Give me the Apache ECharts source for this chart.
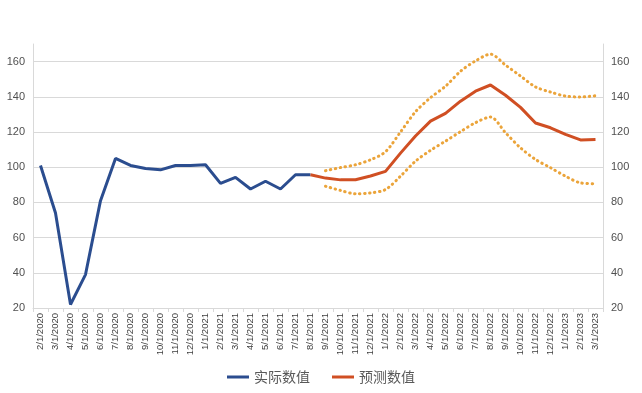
<!DOCTYPE html>
<html>
<head>
<meta charset="utf-8">
<script src="https://cdn.jsdelivr.net/npm/echarts@6/dist/echarts.min.js"></script>
<style>html,body{margin:0;padding:0;background:#fff}#c{width:642px;height:393px}</style>
</head>
<body>
<div id="c"></div>
<script>
var categories = ['2/1/2020','3/1/2020','4/1/2020','5/1/2020','6/1/2020','7/1/2020','8/1/2020','9/1/2020','10/1/2020','11/1/2020','12/1/2020','1/1/2021','2/1/2021','3/1/2021','4/1/2021','5/1/2021','6/1/2021','7/1/2021','8/1/2021','9/1/2021','10/1/2021','11/1/2021','12/1/2021','1/1/2022','2/1/2022','3/1/2022','4/1/2022','5/1/2022','6/1/2022','7/1/2022','8/1/2022','9/1/2022','10/1/2022','11/1/2022','12/1/2022','1/1/2023','2/1/2023','3/1/2023'];
var actual = [101, 74, 22, 39, 81, 105, 101, 99.3, 98.5, 101, 101, 101.4, 90.8, 94.2, 87.6, 92, 87.6, 95.7, 95.7];
var forecast = [null,null,null,null,null,null,null,null,null,null,null,null,null,null,null,null,null,null, 95.7, 93.8, 92.8, 92.9, 95, 97.6, 108, 117.7, 126.2, 130.6, 137.5, 143.2, 146.7, 140.9, 134, 125.1, 122.4, 118.6, 115.5, 115.8];
var upper = [null,null,null,null,null,null,null,null,null,null,null,null,null,null,null,null,null,null,null, 98, 99.8, 101.4, 104.2, 108.8, 120, 131.5, 139.5, 146, 154.5, 160.4, 164.2, 158, 151.8, 145.6, 142.7, 140.4, 139.9, 140.6];
var lower = [null,null,null,null,null,null,null,null,null,null,null,null,null,null,null,null,null,null,null, 89.2, 86.8, 84.9, 85.4, 87.3, 94.9, 103.4, 109.6, 114.8, 120.2, 125.3, 128.5, 119.6, 111, 104.4, 99.7, 94.9, 91.1, 90.6];
var seriesNames = ['实际数值', '预测数值'];

var chart = echarts.init(document.getElementById('c'));
var yAxisCommon = {
  type: 'value', min: 20, max: 170, interval: 20,
  axisLine: {show: true, lineStyle: {color: '#d9d9d9'}},
  axisTick: {show: false},
  splitLine: {show: true, showMaxLine: false, lineStyle: {color: '#d9d9d9', width: 1}},
  axisLabel: {color: '#505050', fontSize: 11, fontFamily: 'Liberation Sans', showMaxLabel: false,
    formatter: function (v) { return v > 160 ? '' : v; }}
};
chart.setOption({
  animation: false,
  backgroundColor: '#fff',
  grid: {left: 33, right: 39, top: 44, bottom: 85},
  legend: {
    data: [{name: seriesNames[0], icon: 'rect'}, {name: seriesNames[1], icon: 'rect'}],
    bottom: 4, left: 'center', itemWidth: 22, itemHeight: 3, itemGap: 22,
    textStyle: {color: '#595959', fontSize: 14, fontFamily: 'Noto Sans CJK SC'}
  },
  xAxis: {
    type: 'category', data: categories, boundaryGap: true,
    axisLine: {lineStyle: {color: '#d9d9d9'}},
    axisTick: {show: true, length: 4, lineStyle: {color: '#d9d9d9'}},
    axisLabel: {rotate: 90, interval: 0, color: '#404040', fontSize: 9.5, fontFamily: 'Liberation Sans', margin: 5}
  },
  yAxis: [
    Object.assign({position: 'left'}, yAxisCommon),
    Object.assign({position: 'right'}, yAxisCommon, {splitLine: {show: false}})
  ],
  series: [
    {name: seriesNames[0], type: 'line', data: actual, symbol: 'none', color: '#2B4D8F',
      lineStyle: {width: 3, color: '#2B4D8F'}, z: 3},
    {name: seriesNames[1], type: 'line', data: forecast, symbol: 'none', color: '#D04F23',
      lineStyle: {width: 3, color: '#D04F23'}, z: 3},
    {name: 'upper', type: 'line', data: upper, symbol: 'none', smooth: 0.3,
      lineStyle: {width: 3, color: '#EBA43A', type: [0.5, 4.5], cap: 'round'}, z: 2},
    {name: 'lower', type: 'line', data: lower, symbol: 'none', smooth: 0.3,
      lineStyle: {width: 3, color: '#EBA43A', type: [0.5, 4.5], cap: 'round'}, z: 2}
  ]
});
</script>
</body>
</html>
